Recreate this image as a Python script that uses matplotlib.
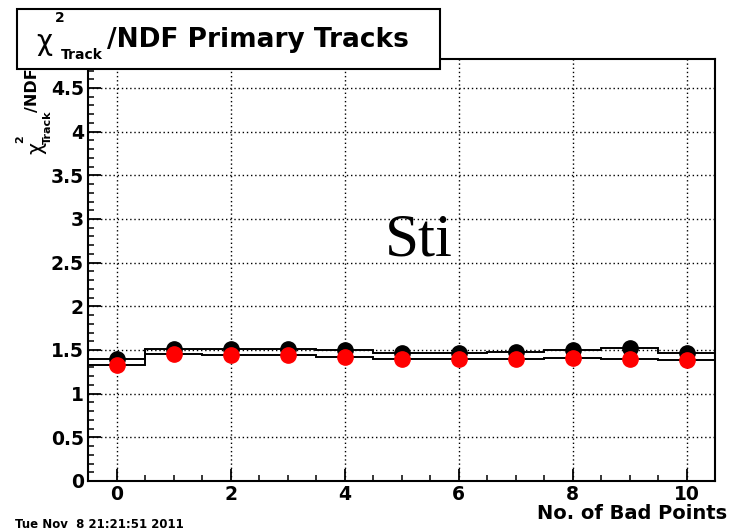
import matplotlib
matplotlib.use("Agg")
import matplotlib.pyplot as plt
import numpy as np
from matplotlib.patches import Rectangle
from matplotlib.ticker import MultipleLocator

# bins = number of bad points
bad_points = np.arange(0, 11)
chi2_black = [1.40, 1.51, 1.51, 1.51, 1.50, 1.47, 1.47, 1.48, 1.50, 1.52, 1.47]
chi2_red = [1.33, 1.45, 1.44, 1.44, 1.42, 1.40, 1.40, 1.40, 1.41, 1.40, 1.38]

title_text = "/NDF Primary Tracks"
xlabel_text = "No. of Bad Points"
date_text = "Tue Nov  8 21:21:51 2011"
note_text = "Sti"

W, H = 729, 530


def px(x, y):
    # pixel position -> figure fraction
    return x / W, 1 - y / H


fig = plt.figure(figsize=(W / 100, H / 100), dpi=100)
ax = fig.add_axes([88 / W, 1 - 481 / H, (715 - 88) / W, (481 - 59) / H])

edges = np.append(bad_points - 0.5, bad_points[-1] + 0.5)
ax.stairs(chi2_black, edges, baseline=None, color="black", lw=1.4, zorder=3)
ax.stairs(chi2_red, edges, baseline=None, color="black", lw=1.4, zorder=3)
ax.plot(bad_points, chi2_black, "o", color="black", ms=11, zorder=4)
ax.plot(bad_points, chi2_red, "o", color="red", ms=11, zorder=5)

ax.set_xlim(-0.5, 10.5)
ax.set_ylim(0, 4.832)
ax.xaxis.set_major_locator(MultipleLocator(2))
ax.xaxis.set_minor_locator(MultipleLocator(0.5))
ax.yaxis.set_major_locator(MultipleLocator(0.5))
ax.yaxis.set_minor_locator(MultipleLocator(0.1))
ax.yaxis.set_major_formatter(plt.FuncFormatter(lambda v, p: "%g" % v))
ax.tick_params(which="major", direction="in", length=9, width=1.3,
               labelsize=13.5, pad=3)
ax.tick_params(which="minor", direction="in", length=4.5, width=1.1)
for lab in ax.get_xticklabels() + ax.get_yticklabels():
    lab.set_fontweight("bold")
ax.grid(True, which="major", linestyle=(0, (1, 2)), color="black", lw=1.0)
for s in ax.spines.values():
    s.set_linewidth(1.5)

# y label (ROOT style, sits just under the title box)
fig.text(*px(36, 148), "χ", rotation=90, fontsize=15, ha="center", va="center", zorder=5)
fig.text(*px(20, 139), "2", rotation=90, fontsize=8, fontweight="bold",
         ha="center", va="center", zorder=5)
fig.text(*px(48, 127), "Track", rotation=90, fontsize=8, fontweight="bold",
         ha="center", va="center", zorder=5)
fig.text(*px(33, 112), "/NDF", rotation=90, rotation_mode="anchor", fontsize=11.5,
         fontweight="bold", ha="left", va="center", zorder=5)

# title box
x0, y0 = px(17, 69)
x1, y1 = px(440, 9)
fig.patches.append(Rectangle((x0, y0), x1 - x0, y1 - y0, transform=fig.transFigure,
                             facecolor="white", edgecolor="black", lw=1.5, zorder=10))
fig.text(*px(44, 42), "χ", fontsize=20, ha="center", va="center", zorder=11)
fig.text(*px(60, 18), "2", fontsize=10, fontweight="bold", ha="center", va="center", zorder=11)
fig.text(*px(82, 55), "Track", fontsize=10, fontweight="bold", ha="center", va="center", zorder=11)
fig.text(*px(107, 47), title_text, fontsize=19, fontweight="bold", ha="left",
         va="baseline", zorder=11)

fig.text(*px(727, 519), xlabel_text, fontsize=14, fontweight="bold", ha="right", va="baseline")
fig.text(*px(15, 524), date_text, fontsize=8.5, fontweight="bold", ha="left", va="center")
fig.text(*px(385, 255), note_text, fontsize=44, family="Liberation Serif", ha="left", va="baseline")

fig.savefig("out.png", dpi=100)
